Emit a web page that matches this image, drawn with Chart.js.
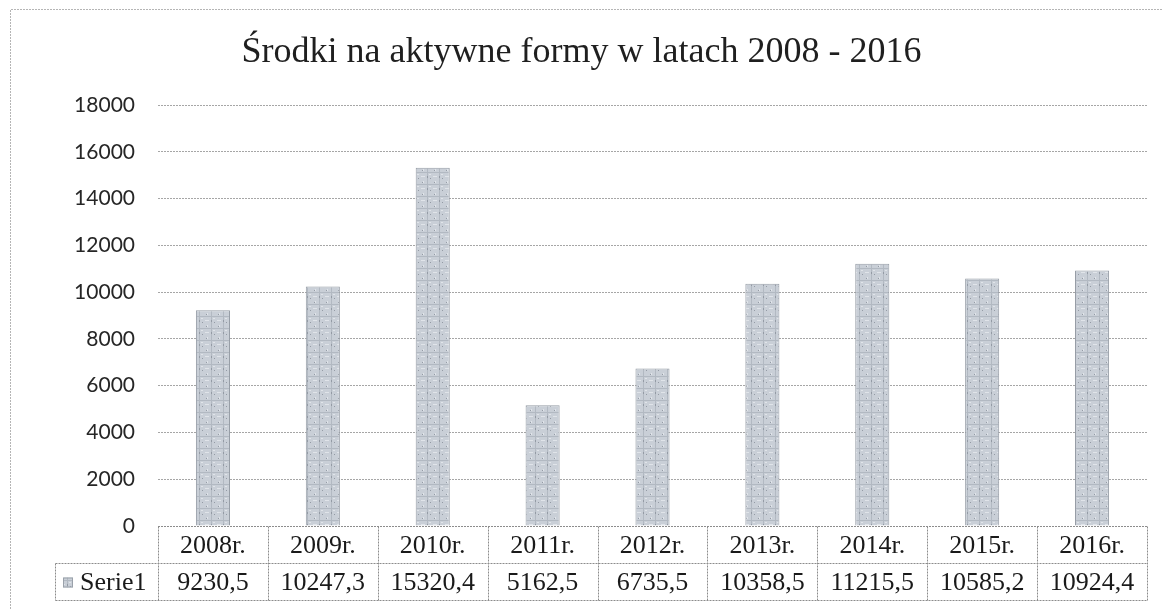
<!DOCTYPE html>
<html>
<head>
<meta charset="utf-8">
<script src="https://cdn.jsdelivr.net/npm/chart.js@4/dist/chart.umd.min.js"></script>
<style>
  html, body { margin: 0; padding: 0; background: #ffffff; }
  #wrap { position: relative; width: 1163px; height: 609px; }
</style>
</head>
<body>
<div id="wrap"><canvas id="c" width="1163" height="609"></canvas></div>
<script>
// ---- data ----
const chartTitle = 'Środki na aktywne formy w latach 2008 - 2016';
const categories = ['2008r.', '2009r.', '2010r.', '2011r.', '2012r.', '2013r.', '2014r.', '2015r.', '2016r.'];
const seriesName = 'Serie1';
const seriesValues = [9230.5, 10247.3, 15320.4, 5162.5, 6735.5, 10358.5, 11215.5, 10585.2, 10924.4];
const yMin = 0;
const yMax = 18000;
const yStep = 2000;

// ---- textured fill resembling the scanned bars ----
function makePattern() {
  const p = document.createElement('canvas');
  p.width = 12; p.height = 12;
  const g = p.getContext('2d');
  g.fillStyle = '#c9cfd7';
  g.fillRect(0, 0, 12, 12);
  g.fillStyle = '#b2b9c2';
  g.fillRect(0, 4, 12, 1);
  g.fillRect(7, 0, 1, 12);
  g.fillStyle = '#e0e4e9';
  g.fillRect(1, 8, 4, 1);
  g.fillRect(3, 1, 1, 2);
  g.fillRect(9, 6, 2, 1);
  g.fillStyle = '#949ba5';
  g.fillRect(7, 8, 1, 2);
  g.fillRect(2, 2, 1, 1);
  g.fillRect(10, 10, 1, 1);
  return g.createPattern(p, 'repeat');
}

function fmtValue(v) { return String(v).replace('.', ','); }

const frameAndTable = {
  id: 'frameAndTable',
  beforeDraw(chart) {
    const ctx = chart.ctx;
    ctx.save();
    ctx.strokeStyle = '#b5b5b5';
    ctx.lineWidth = 1;
    ctx.setLineDash([2, 1]);
    ctx.beginPath();
    ctx.moveTo(10.5, 609);
    ctx.lineTo(10.5, 9.5);
    ctx.lineTo(1163, 9.5);
    ctx.stroke();
    ctx.restore();
  },
  afterDraw(chart) {
    const ctx = chart.ctx;
    const xs = chart.scales.x;
    const area = chart.chartArea;
    const n = categories.length;
    const colW = (xs.right - xs.left) / n;
    const top = Math.round(area.bottom) + 0.5;
    const rowH = 37;
    const mid = top + rowH;
    const bot = mid + rowH;
    const keyLeft = 55.5;
    ctx.save();
    ctx.strokeStyle = '#8c8c8c';
    ctx.lineWidth = 1;
    ctx.setLineDash([2, 1]);
    ctx.beginPath();
    ctx.moveTo(xs.left, top); ctx.lineTo(xs.right, top);
    ctx.moveTo(keyLeft, mid); ctx.lineTo(xs.right, mid);
    ctx.moveTo(keyLeft, bot); ctx.lineTo(xs.right, bot);
    ctx.moveTo(keyLeft, mid); ctx.lineTo(keyLeft, bot);
    for (let i = 0; i <= n; i++) {
      const xx = Math.round(xs.left + i * colW) + 0.5;
      ctx.moveTo(xx, top); ctx.lineTo(xx, bot);
    }
    ctx.stroke();
    ctx.setLineDash([]);
    ctx.fillStyle = '#1a1a1a';
    ctx.font = '26px "Liberation Serif", "Times New Roman", serif';
    ctx.textAlign = 'center';
    ctx.textBaseline = 'middle';
    for (let i = 0; i < n; i++) {
      const cx = xs.getPixelForValue(i);
      ctx.fillText(categories[i], cx, top + rowH / 2 + 1);
      ctx.fillText(fmtValue(seriesValues[i]), cx, mid + rowH / 2 + 1);
    }
    ctx.fillStyle = chart.data.datasets[0].backgroundColor;
    ctx.fillRect(63, mid + 14, 10, 10);
    ctx.strokeStyle = '#9aa1aa';
    ctx.strokeRect(63.5, mid + 14.5, 9, 9);
    ctx.fillStyle = '#1a1a1a';
    ctx.textAlign = 'left';
    ctx.fillText(seriesName, 80, mid + rowH / 2 + 1);
    ctx.restore();
  }
};

const ctx = document.getElementById('c').getContext('2d');
const barFill = makePattern();

new Chart(ctx, {
  type: 'bar',
  data: {
    labels: categories,
    datasets: [{
      label: seriesName,
      data: seriesValues,
      backgroundColor: barFill,
      borderColor: '#959ca5',
      borderWidth: 1,
      borderSkipped: 'bottom',
      barPercentage: 0.31,
      categoryPercentage: 1.0,
      yAxisID: 'y'
    }]
  },
  options: {
    responsive: false,
    animation: false,
    devicePixelRatio: 1,
    layout: { padding: { left: 0, right: 0, top: 0, bottom: 83 } },
    plugins: {
      legend: { display: false },
      tooltip: { enabled: false },
      title: {
        display: true,
        text: chartTitle,
        color: '#1f1f1f',
        font: { family: '"Liberation Serif", "Times New Roman", serif', size: 36, weight: 'normal', lineHeight: 1.2 },
        padding: { top: 31, bottom: 31 }
      }
    },
    scales: {
      x: {
        display: false,
        offset: true,
        grid: { display: false }
      },
      y: {
        position: 'left',
        min: yMin,
        max: yMax,
        ticks: {
          stepSize: yStep,
          padding: 23,
          color: '#262626',
          font: { family: 'Lato, "Open Sans", sans-serif', size: 21 },
          callback: (v) => String(v)
        },
        grid: {
          drawTicks: false,
          color: '#a6a6a6',
          lineWidth: 1
        },
        border: { display: false, dash: [2, 1] },
        afterFit(scale) { scale.width = 158; }
      },
      yRight: {
        position: 'right',
        display: true,
        min: yMin,
        max: yMax,
        ticks: { display: false },
        grid: { display: false, drawTicks: false },
        border: { display: false },
        afterFit(scale) { scale.width = 16; }
      }
    }
  },
  plugins: [frameAndTable]
});
</script>
</body>
</html>
